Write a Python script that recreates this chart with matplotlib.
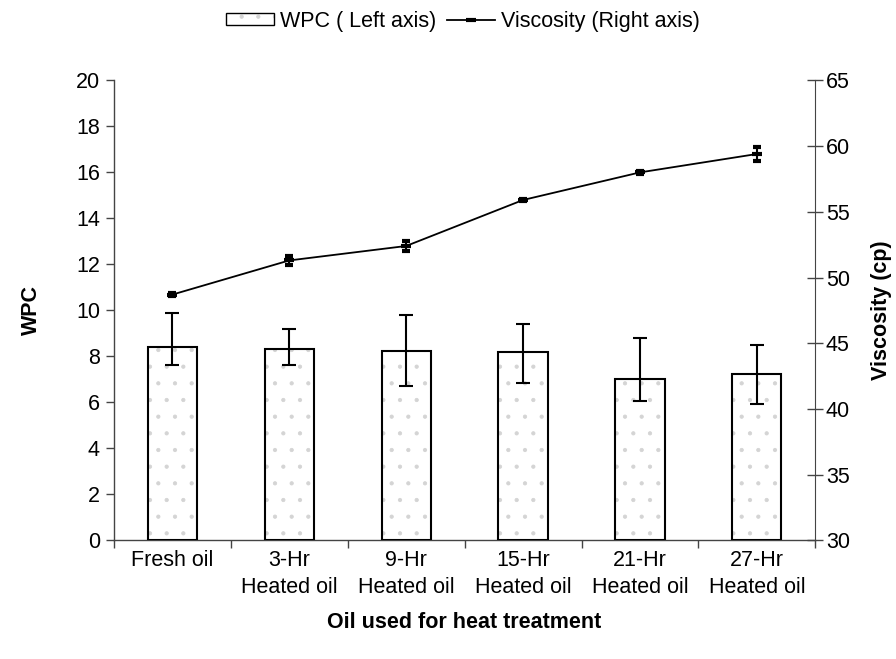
import matplotlib
matplotlib.use("Agg")
import matplotlib.pyplot as plt
from matplotlib.patches import Patch
from matplotlib.lines import Line2D
from matplotlib.legend_handler import HandlerTuple
import numpy as np

plt.rcParams['font.family'] = ['Liberation Sans', 'DejaVu Sans']
plt.rcParams['hatch.linewidth'] = 0.6

categories = ["Fresh oil", "3-Hr\nHeated oil", "9-Hr\nHeated oil",
              "15-Hr\nHeated oil", "21-Hr\nHeated oil", "27-Hr\nHeated oil"]
wpc = [8.40, 8.32, 8.23, 8.17, 7.00, 7.25]
wpc_err_low = [0.78, 0.70, 1.53, 1.31, 0.93, 1.32]
wpc_err_high = [1.48, 0.85, 1.58, 1.25, 1.80, 1.23]
viscosity = [48.7, 51.3, 52.4, 55.9, 58.0, 59.4]
viscosity_err = [0.10, 0.35, 0.40, 0.10, 0.12, 0.50]

FS = 15.5
DOT_GREY = '#d4d4d4'
AXIS_GREY = '#444444'

fig = plt.figure(figsize=(8.96, 6.59), dpi=100)
ax = fig.add_axes([0.127, 0.180, 0.783, 0.698])
x = np.arange(len(categories))

# dotted fill first, then the black outline on top
ax.bar(x, wpc, width=0.42, color='white', edgecolor=DOT_GREY,
       linewidth=0, hatch='.', zorder=2)
ax.bar(x, wpc, width=0.42, fill=False, edgecolor='black',
       linewidth=1.5, zorder=3)
ax.errorbar(x, wpc, yerr=[wpc_err_low, wpc_err_high], fmt='none',
            ecolor='black', elinewidth=1.5, capsize=4.8, capthick=1.5,
            zorder=4)

ax.set_xlim(-0.5, len(categories) - 0.5)
ax.set_ylim(0, 20)
ax.set_yticks(np.arange(0, 21, 2))
ax.set_xticks(np.arange(-0.5, len(categories), 1.0))
ax.set_xticklabels([])
ax.set_xticks(x, minor=True)
ax.set_xticklabels(categories, minor=True, fontsize=FS, linespacing=1.35)
ax.tick_params(axis='x', which='minor', length=0, pad=7)
ax.tick_params(axis='x', which='major', direction='out', length=6,
               width=1, color=AXIS_GREY)
ax.tick_params(axis='y', direction='out', length=6, width=1,
               color=AXIS_GREY, labelsize=FS, pad=4)
ax.spines['top'].set_visible(False)
ax.spines['right'].set_visible(False)
for s in ('left', 'bottom'):
    ax.spines[s].set_color(AXIS_GREY)
    ax.spines[s].set_linewidth(1)

ax.set_ylabel("WPC", fontsize=FS, fontweight='bold', labelpad=24)
ax.set_xlabel("Oil used for heat treatment", fontsize=FS,
              fontweight='bold', labelpad=10)

ax2 = ax.twinx()
ax2.set_ylim(30, 65)
ax2.set_yticks(np.arange(30, 66, 5))
ax2.errorbar(x, viscosity, yerr=viscosity_err, color='black',
             linewidth=1.3, marker='_', markersize=7, markeredgewidth=3,
             elinewidth=1.5, capsize=3.2, capthick=1.5, zorder=5)
ax2.tick_params(axis='y', direction='inout', length=11, width=1,
                color=AXIS_GREY, labelsize=FS, pad=2)
ax2.spines['top'].set_visible(False)
ax2.spines['left'].set_visible(False)
ax2.spines['bottom'].set_visible(False)
ax2.spines['right'].set_color(AXIS_GREY)
ax2.set_ylabel("Viscosity (cp)", fontsize=FS, fontweight='bold',
               labelpad=15)

wpc_handle = (
    Patch(facecolor='white', edgecolor=DOT_GREY, linewidth=0, hatch='.'),
    Patch(facecolor='none', edgecolor='black', linewidth=1),
)
visc_handle = Line2D([0], [0], color='black', linewidth=1.3, marker='_',
                     markersize=7, markeredgewidth=3)
fig.legend([wpc_handle, visc_handle],
           ["WPC ( Left axis)", "Viscosity (Right axis)"],
           handler_map={tuple: HandlerTuple(ndivide=1)},
           loc='center', bbox_to_anchor=(0.517, 0.968),
           ncol=2, frameon=False, fontsize=FS, handlelength=2.2,
           handleheight=0.45, columnspacing=0.5, handletextpad=0.3)

fig.savefig("out.png", dpi=100)
